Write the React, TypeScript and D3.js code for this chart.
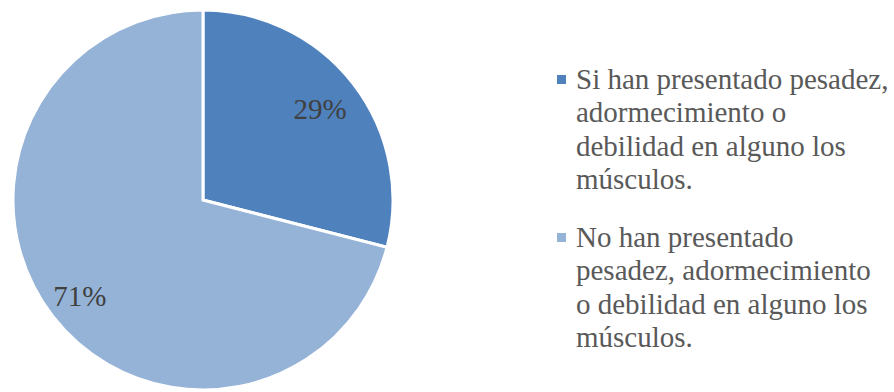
import React from "react";
import * as d3 from "d3";

const categories = [
  "Si han presentado pesadez, adormecimiento o debilidad en alguno los músculos.",
  "No han presentado pesadez, adormecimiento o debilidad en alguno los músculos.",
];
const values = [29, 71];
const colors = ["#4F81BD", "#95B3D7"];
const legendLines = [
  ["Si han presentado pesadez,", "adormecimiento o", "debilidad en alguno los", "músculos."],
  ["No han presentado", "pesadez, adormecimiento", "o debilidad en alguno los", "músculos."],
];

const W = 894;
const H = 392;
const cx = 203;
const cy = 200;
const R = 190;
const labelRadii = [0.78, 0.82];

export default function App() {
  const pie = d3.pie<number>().sort(null).value((d) => d)(values);
  const arc = d3.arc<d3.PieArcDatum<number>>().innerRadius(0).outerRadius(R);
  const fontStyle = { fontFamily: "Liberation Serif" };
  const groupTops = [89, 247];
  const lineH = 33.3;
  return (
    <svg
      width={W}
      height={H}
      style={{ position: "absolute", left: 0, top: 0, background: "#fff" }}
    >
      <rect x={0} y={0} width={W} height={H} fill="#fff" />
      <g transform={`translate(${cx},${cy})`}>
        {pie.map((p, i) => (
          <path key={i} d={arc(p) || ""} fill={colors[i]} stroke="#fff" strokeWidth={3} />
        ))}
        {pie.map((p, i) => {
          const lr = R * labelRadii[i];
          const [x, y] = d3.arc<d3.PieArcDatum<number>>().innerRadius(lr).outerRadius(lr).centroid(p);
          return (
            <text
              key={"l" + i}
              x={x}
              y={y}
              dy="0.35em"
              textAnchor="middle"
              style={fontStyle}
              fontSize={29}
              fill="#404040"
            >
              {values[i]}%
            </text>
          );
        })}
      </g>
      {categories.map((c, i) => (
        <g key={"g" + i}>
          <rect x={557} y={groupTops[i] - 14} width={9} height={9} fill={colors[i]} />
          <text style={fontStyle} fontSize={29} fill="#595959">
            {legendLines[i].map((ln, j) => (
              <tspan key={j} x={576} y={groupTops[i] + j * lineH}>
                {ln}
              </tspan>
            ))}
          </text>
        </g>
      ))}
    </svg>
  );
}
